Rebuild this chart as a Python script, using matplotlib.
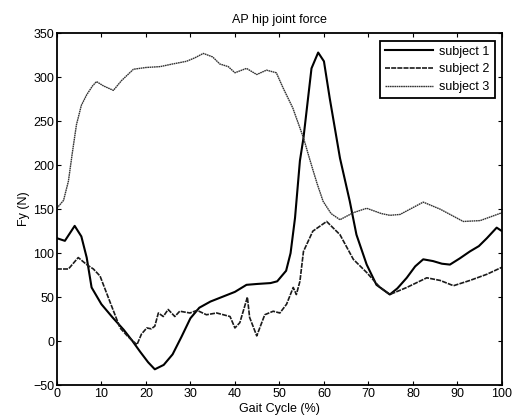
import matplotlib
matplotlib.use("Agg")
import matplotlib.pyplot as plt

plt.rcParams['font.family'] = ['Liberation Sans', 'DejaVu Sans']

# subject 1 - the sharp peak near 59 %
s1_x = [0, 1.8, 4, 5.5, 6.7, 7.8, 10, 12.5, 15, 17, 18.7, 20.5, 22, 24, 26, 28, 30,
        32, 34.5, 37.5, 40, 42.6, 45, 48, 49.5, 51.5, 52.5, 53.5, 54.6, 55.4, 57.2,
        58.7, 60, 61.3, 63.6, 65.8, 67.3, 69.6, 71.8, 74.8, 76.5, 78.6, 80.5, 82.3,
        84.5, 86.5, 88.3, 90.5, 92.8, 94.8, 96.6, 98.8, 100]
s1_y = [117, 114, 131, 119, 95, 61, 42, 27, 13, 0, -12, -24, -32, -27, -15, 5, 26,
        38, 45, 51, 56, 64, 65, 66, 68, 80, 100, 140, 205, 231, 310,
        328, 318, 276, 208, 159, 121, 87, 64, 53, 60, 72, 85, 93,
        91, 88, 87, 94, 102, 108, 117, 129, 125]

# subject 2 - the jagged low curve
s2_x = [0, 2.6, 4.8, 6.7, 8.2, 9.7, 11.9, 14.2, 16, 18, 19, 20.2, 21.2, 22, 22.8,
        23.9, 25, 26.5, 27.6, 29.9, 31.5, 33.6, 35.9, 38.9, 40, 41.1, 42.8, 43.3,
        44.9, 46.7, 48.6, 50.1, 51.6, 53.1, 53.8, 54.6, 55.4, 57.5, 60.6, 63.6,
        66.6, 69.6, 72.6, 74.8, 78.6, 83.1, 86.1, 89.1, 92.8, 96.6, 100]
s2_y = [82, 82, 95, 87, 82, 74, 45, 15, 5, -4, 8, 15, 14, 17, 32,
        28, 36, 28, 34, 32, 35, 30, 32, 28, 15, 21, 50, 27,
        6, 30, 34, 32, 42, 61, 53, 68, 102, 125, 136, 121,
        93, 78, 61, 53, 61, 72, 69, 63, 69, 76, 84]

# subject 3 - the high plateau
s3_x = [0, 1.5, 2.6, 3.5, 4.4, 5.5, 6.7, 8, 8.9, 10.5, 12.7, 14.5, 17.2, 20, 23.2,
        26, 29.1, 31, 32.9, 35, 36.6, 38.5, 40, 42.6, 44.9, 47.1, 49.3, 50.8, 53,
        55.4, 56.9, 58.4, 59.8, 61.6, 63.6, 66.6, 69.6, 72.9, 74.8, 77.1, 82.3,
        86.1, 91.3, 95.1, 100]
s3_y = [151, 160, 182, 215, 246, 268, 280, 290, 295, 290, 285, 296, 309, 311, 312,
        315, 318, 322, 327, 323, 315, 312, 305, 310, 303, 308, 305, 288, 265,
        231, 205, 180, 159, 145, 138, 146, 151, 145, 143, 144, 158,
        150, 136, 137, 146]

fig = plt.figure(figsize=(5.17, 4.20), dpi=100)
ax = fig.add_axes([0.110, 0.083, 0.861, 0.838])

ax.plot(s1_x, s1_y, color='black', lw=1.5, label='subject 1')
ax.plot(s2_x, s2_y, color='#1a1a1a', lw=1.2, ls=(0, (3, 0.7)), label='subject 2')
ax.plot(s3_x, s3_y, color='#333333', lw=1.0, ls=(0, (1.2, 0.4)), label='subject 3')

ax.set_xlim(0, 100)
ax.set_ylim(-50, 350)
ax.set_xticks(range(0, 101, 10))
ax.set_yticks(range(-50, 351, 50))
ax.tick_params(direction='in', top=True, right=True, labelsize=9, length=3, pad=2)
for sp in ax.spines.values():
    sp.set_linewidth(1.3)

ax.set_title('AP hip joint force', fontsize=9, pad=7)
ax.set_xlabel('Gait Cycle (%)', fontsize=9, labelpad=2)
ax.set_ylabel('Fy (N)', fontsize=9, labelpad=2)

leg = ax.legend(loc='upper right', fontsize=9, fancybox=False, framealpha=1,
                edgecolor='black', handlelength=3.8, borderaxespad=0.6,
                labelspacing=0.45, borderpad=0.4, handletextpad=0.5)
leg.get_frame().set_linewidth(1.3)

fig.savefig('out.png', dpi=100)
